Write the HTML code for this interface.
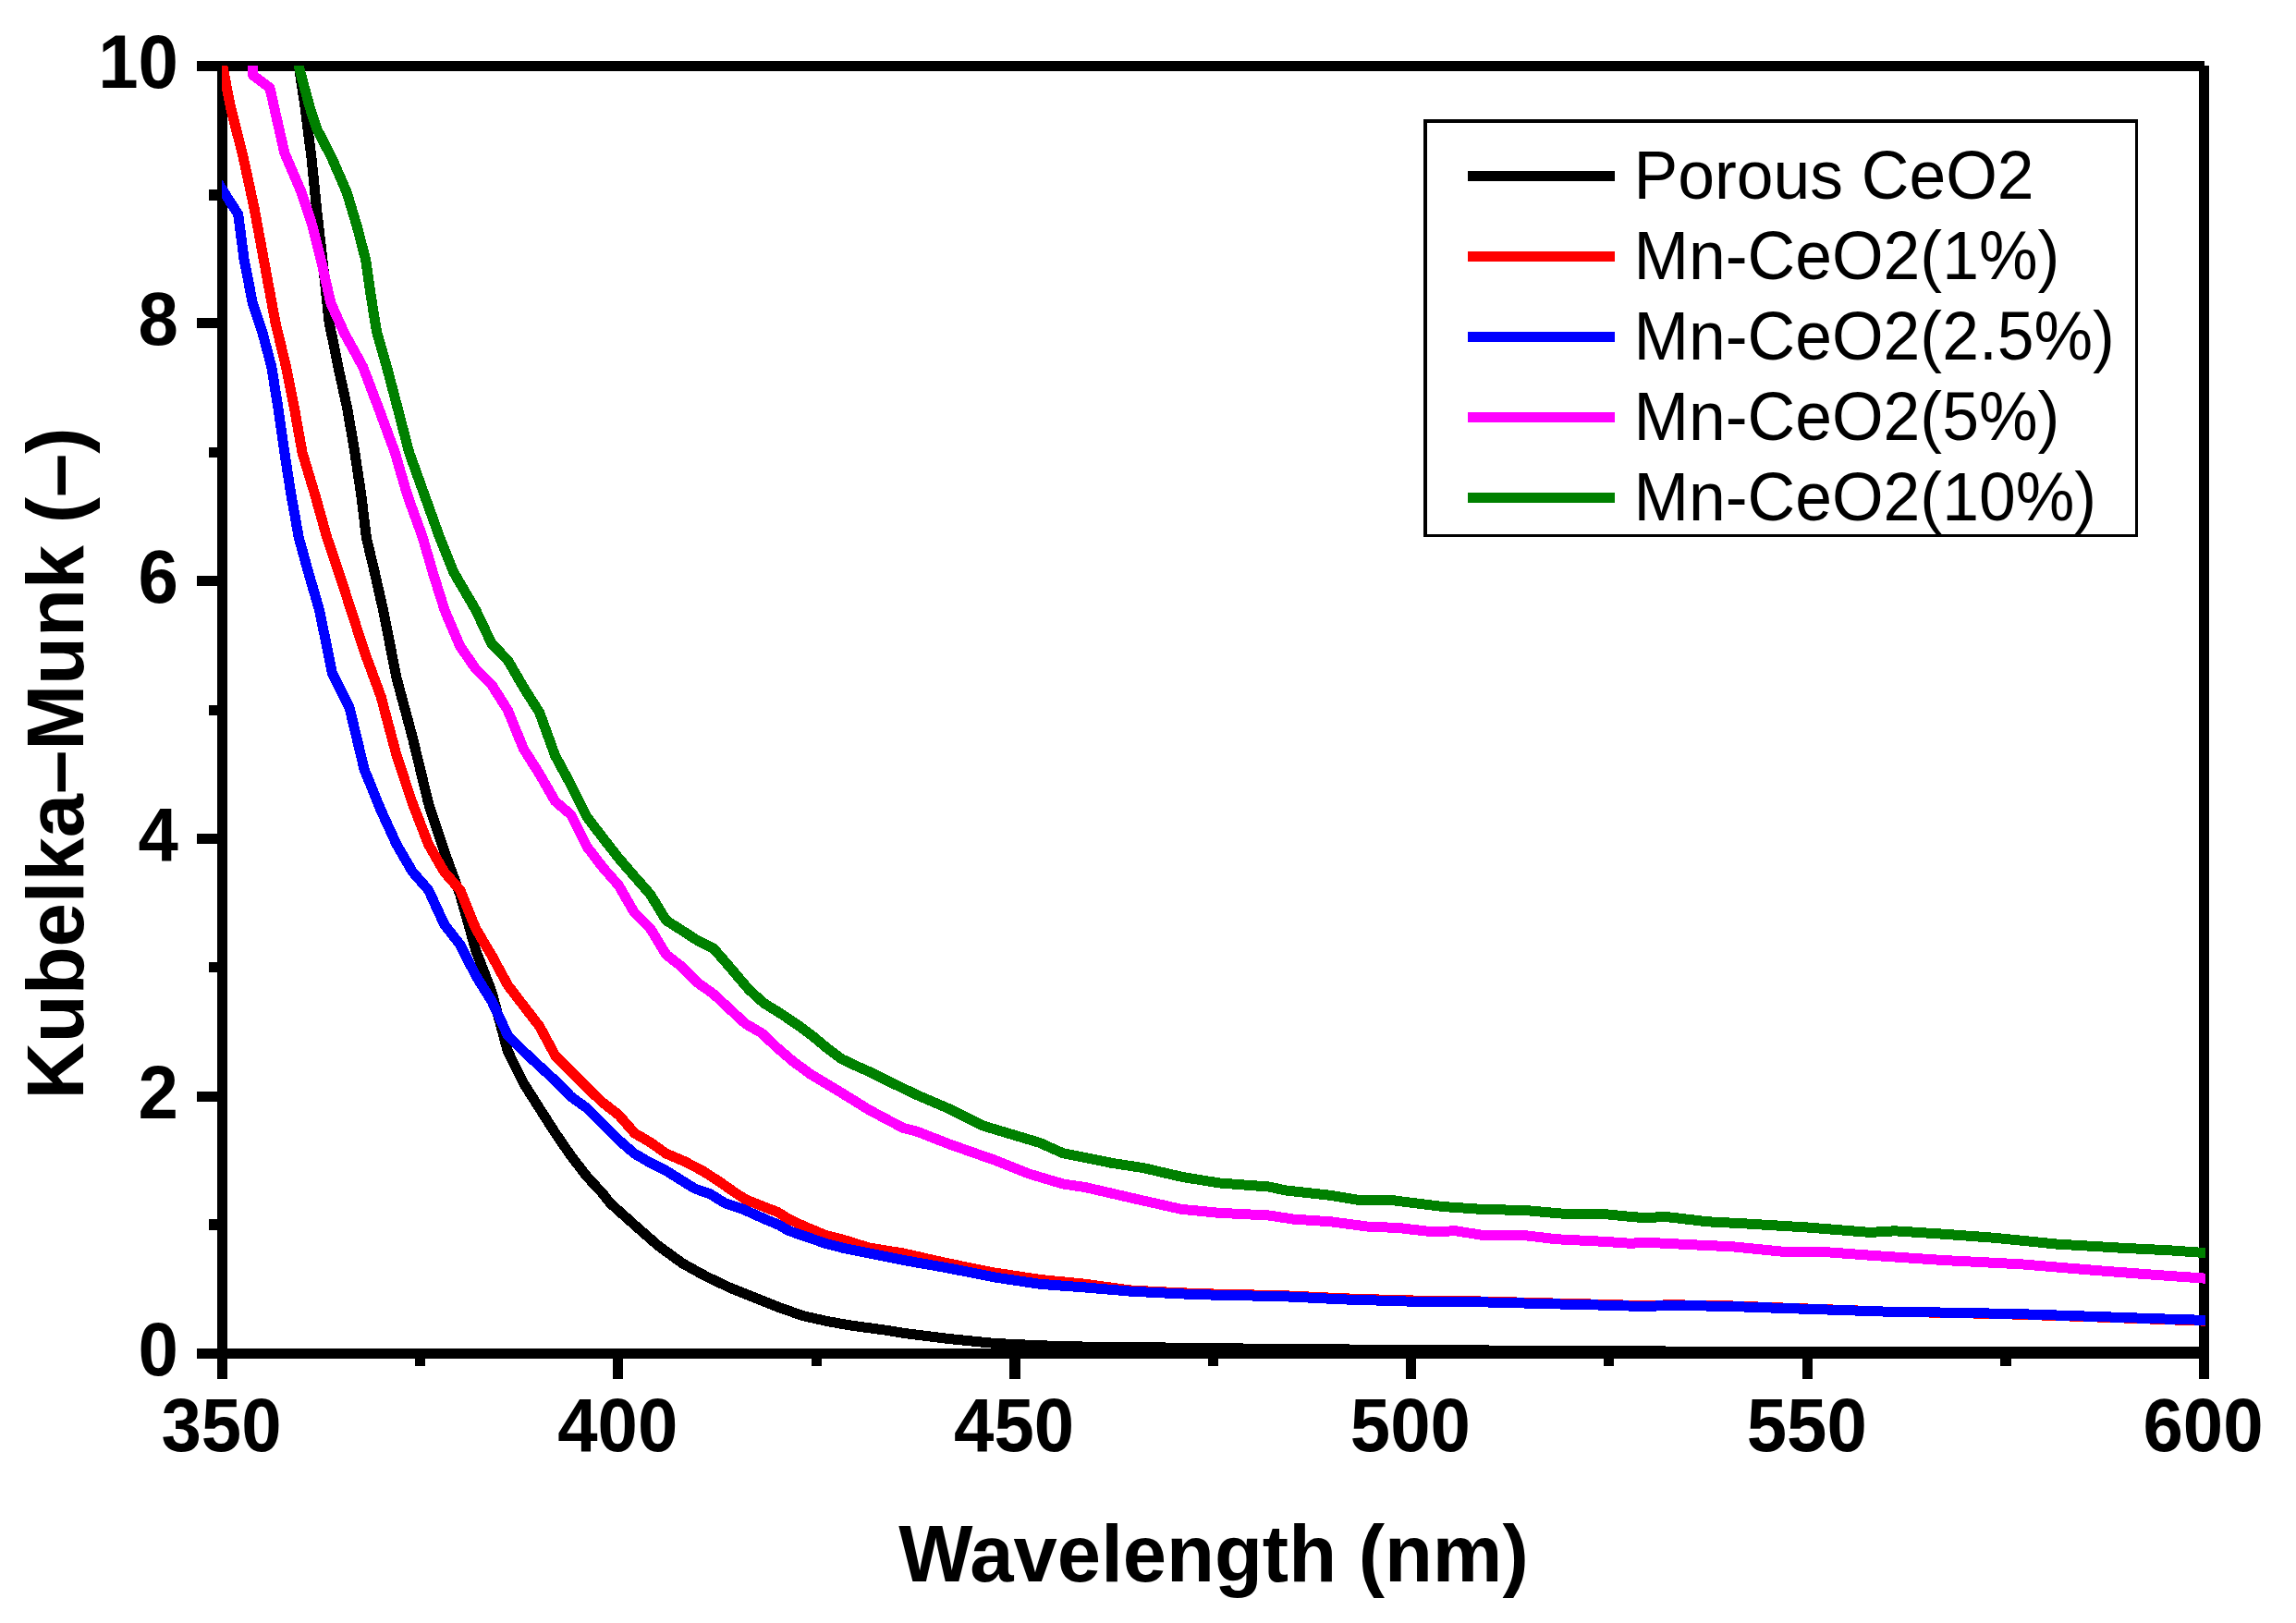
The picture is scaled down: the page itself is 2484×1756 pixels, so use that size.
<!DOCTYPE html>
<html lang="en">
<head>
<meta charset="utf-8">
<title>Kubelka-Munk vs Wavelength</title>
<style>
html,body{margin:0;padding:0;background:#fff;}
body{width:2484px;height:1756px;overflow:hidden;}
svg{display:block;}
.tick{font-family:"Liberation Sans",Arial,sans-serif;font-weight:bold;font-size:78px;fill:#000;}
.title{font-family:"Liberation Sans",Arial,sans-serif;font-weight:bold;font-size:85px;fill:#000;}
.leg{font-family:"Liberation Sans",Arial,sans-serif;font-size:71.5px;fill:#000;}
</style>
</head>
<body>
<svg width="2484" height="1756" viewBox="0 0 2484 1756">
<rect x="0" y="0" width="2484" height="1756" fill="#ffffff"/>
<defs><clipPath id="plotclip"><rect x="240" y="71" width="2146" height="1395"/></clipPath></defs>

<g fill="#000" shape-rendering="crispEdges">
<rect x="213" y="66" width="2172" height="11"/>
<rect x="213" y="1459" width="2177" height="11"/>
<rect x="235" y="66" width="11" height="1426"/>
<rect x="2379" y="71" width="11" height="1421"/>
<rect x="449" y="1470" width="11" height="8"/>
<rect x="663" y="1470" width="11" height="22"/>
<rect x="878" y="1470" width="11" height="8"/>
<rect x="1092" y="1470" width="12" height="22"/>
<rect x="1307" y="1470" width="11" height="8"/>
<rect x="1521" y="1470" width="11" height="22"/>
<rect x="1735" y="1470" width="11" height="8"/>
<rect x="1950" y="1470" width="11" height="22"/>
<rect x="2164" y="1470" width="12" height="8"/>
<rect x="226" y="205" width="9" height="12"/>
<rect x="213" y="344" width="22" height="11"/>
<rect x="226" y="484" width="9" height="11"/>
<rect x="213" y="623" width="22" height="11"/>
<rect x="226" y="763" width="9" height="11"/>
<rect x="213" y="902" width="22" height="11"/>
<rect x="226" y="1041" width="9" height="11"/>
<rect x="213" y="1181" width="22" height="11"/>
<rect x="226" y="1319" width="9" height="12"/>
</g>
<g clip-path="url(#plotclip)" fill="none" stroke-width="11" stroke-linejoin="round" stroke-linecap="butt" shape-rendering="crispEdges">
<polyline stroke="#000000" points="318.7,-13.9 323.3,71.1 330.0,115.5 337.0,170.9 342.6,226.4 349.0,281.8 356.1,348.6 365.9,397.0 376.0,443.2 383.8,489.4 390.8,535.6 396.4,581.8 405.2,618.8 414.5,660.0 429.1,733.8 446.3,797.9 463.6,869.3 480.6,921.1 497.8,967.9 515.0,1028.9 532.0,1073.2 549.3,1137.3 566.3,1171.8 583.5,1198.9 600.8,1226.0 617.8,1250.7 635.0,1272.9 652.0,1291.3 660.0,1301.6 686.1,1325.0 712.3,1348.0 738.4,1366.9 764.5,1381.3 790.7,1393.7 816.8,1404.1 843.0,1414.6 869.0,1423.7 895.2,1429.6 921.3,1434.2 960.0,1439.4 977.2,1442.3 1026.5,1448.5 1075.7,1453.4 1125.0,1455.8 1174.3,1457.1 1230.0,1457.5 1290.0,1458.5 1400.0,1459.5 1520.0,1460.5 1700.0,1461.5 1900.0,1462.5 2386.0,1462.5"/>
<polyline stroke="#ff0000" points="233.7,4.5 240.7,71.1 249.4,115.5 263.3,170.9 275.3,226.4 285.5,281.8 297.9,348.6 309.5,397.0 318.7,443.2 327.0,489.4 340.9,535.6 353.8,581.8 366.4,618.8 379.7,660.0 394.8,706.7 412.1,753.5 429.1,817.6 446.3,869.3 463.6,913.7 480.6,943.3 497.8,963.0 514.8,1004.9 532.0,1033.8 549.3,1065.8 566.3,1088.0 583.5,1110.2 600.8,1142.2 617.8,1159.5 635.0,1176.7 652.0,1192.8 669.3,1206.3 686.5,1226.0 703.5,1235.9 720.8,1248.2 740.0,1256.3 760.0,1266.7 778.3,1278.5 795.7,1290.7 806.2,1297.5 827.1,1306.0 841.0,1311.3 853.2,1318.8 870.7,1327.1 893.3,1336.5 910.7,1340.8 940.0,1349.9 977.2,1356.0 1026.5,1367.1 1075.7,1377.0 1125.0,1384.4 1174.3,1389.3 1224.0,1396.1 1278.0,1398.8 1318.5,1400.2 1386.0,1401.6 1453.5,1404.8 1521.0,1406.9 1602.1,1408.0 1683.1,1410.1 1737.1,1411.4 1780.0,1412.8 1807.0,1411.7 1874.5,1413.0 1955.5,1416.0 2036.5,1419.0 2117.5,1420.6 2185.1,1422.2 2266.1,1424.9 2320.1,1426.8 2386.0,1429.2"/>
<polyline stroke="#0000ff" points="223.3,178.3 240.5,205.1 257.7,231.9 264.2,281.8 273.4,328.0 284.0,360.0 293.8,397.0 301.2,443.2 307.8,489.4 315.0,535.6 323.3,581.8 333.5,618.8 345.5,660.0 359.6,728.9 378.1,765.8 394.1,832.4 412.1,876.7 429.1,913.7 446.3,943.3 463.6,963.0 480.6,1000.0 497.8,1022.2 515.0,1056.0 532.0,1083.1 549.3,1120.1 566.3,1137.3 583.5,1153.3 600.8,1169.3 617.8,1186.6 635.0,1198.9 652.0,1216.2 669.3,1233.4 686.5,1248.2 703.5,1258.1 720.8,1266.7 740.0,1278.8 752.2,1286.2 768.7,1292.0 783.6,1301.4 804.5,1308.6 827.1,1318.8 842.8,1325.4 853.2,1331.5 870.7,1337.6 893.3,1345.4 914.2,1350.8 931.6,1354.3 977.2,1363.4 1026.5,1372.1 1075.7,1381.9 1125.0,1389.3 1174.3,1393.0 1224.0,1397.2 1278.0,1399.9 1318.5,1401.3 1386.0,1402.6 1453.5,1405.9 1521.0,1408.0 1602.1,1408.8 1683.1,1410.9 1737.1,1412.2 1780.0,1413.6 1807.0,1412.2 1874.5,1413.6 1955.5,1416.3 2036.5,1419.0 2117.5,1420.3 2185.1,1421.7 2266.1,1424.4 2320.1,1426.3 2386.0,1428.4"/>
<polyline stroke="#ff00ff" points="273.6,-13.9 273.6,81.3 291.9,95.1 307.8,165.4 326.1,207.9 338.1,244.8 347.4,281.8 357.9,328.0 372.3,360.0 392.7,397.0 410.2,443.2 427.2,489.4 440.7,535.6 457.4,581.8 468.1,618.8 481.0,660.0 497.8,699.3 514.8,723.9 532.1,741.2 549.3,768.3 566.4,810.2 583.6,837.3 600.6,866.9 617.9,881.7 635.1,916.2 652.1,938.4 669.4,958.1 686.4,987.6 703.5,1004.5 720.8,1032.9 737.8,1046.1 755.0,1063.4 772.3,1075.7 789.3,1091.7 806.6,1107.7 823.8,1117.6 840.8,1133.6 858.1,1148.4 876.9,1162.3 908.2,1181.0 940.2,1200.8 977.2,1220.5 992.0,1224.2 1026.5,1237.7 1051.1,1246.4 1075.7,1255.0 1112.7,1269.8 1149.7,1280.9 1174.3,1284.6 1224.0,1296.1 1278.0,1308.3 1318.5,1312.3 1372.5,1315.0 1399.5,1319.1 1440.0,1321.8 1480.5,1327.2 1512.9,1328.5 1548.1,1332.6 1575.1,1331.8 1602.1,1336.1 1645.3,1336.1 1683.1,1340.7 1737.1,1343.4 1764.1,1345.3 1780.0,1344.2 1834.0,1346.9 1874.5,1348.8 1928.5,1354.2 1969.0,1354.2 2023.0,1358.2 2104.0,1363.6 2185.1,1367.7 2266.1,1374.4 2320.1,1378.5 2386.0,1383.2"/>
<polyline stroke="#008000" points="303.9,-13.9 324.6,77.0 335.0,115.5 342.8,139.5 359.0,170.9 375.1,207.9 386.2,244.8 395.8,281.8 401.0,318.8 407.8,360.0 418.5,397.0 430.6,443.2 442.6,489.4 459.2,535.6 475.8,581.8 490.6,618.8 514.7,660.0 532.1,696.8 549.3,714.1 566.4,743.7 583.6,770.8 600.6,817.6 617.9,849.6 635.1,884.1 652.1,906.3 669.4,928.5 686.4,948.2 703.5,967.6 720.8,995.9 737.8,1006.7 755.0,1017.8 772.3,1026.4 789.3,1046.1 796.7,1054.8 810.2,1070.7 826.3,1085.3 844.8,1096.7 863.2,1109.1 879.3,1121.0 894.1,1133.5 910.1,1145.5 924.9,1152.6 943.4,1160.9 960.0,1169.3 992.0,1184.7 1026.5,1199.5 1063.4,1218.0 1100.4,1229.1 1125.0,1236.5 1149.7,1247.6 1174.3,1252.5 1202.4,1258.3 1237.5,1263.7 1278.0,1273.2 1318.5,1279.9 1372.5,1284.0 1391.4,1288.0 1440.0,1293.4 1472.4,1298.8 1507.5,1298.8 1561.6,1305.6 1602.1,1308.3 1650.7,1309.6 1696.6,1313.7 1737.1,1313.7 1764.1,1316.4 1780.0,1317.7 1801.6,1316.4 1847.5,1321.8 1888.0,1323.9 1955.5,1328.0 2023.0,1333.4 2050.0,1331.8 2104.0,1335.3 2158.1,1339.3 2225.6,1346.1 2293.1,1350.1 2347.1,1352.8 2386.0,1355.6"/>
</g>
<text class="tick" transform="translate(239.5,1570) scale(1,1.043)" text-anchor="middle">350</text>
<text class="tick" transform="translate(668.3,1570) scale(1,1.043)" text-anchor="middle">400</text>
<text class="tick" transform="translate(1097.1,1570) scale(1,1.043)" text-anchor="middle">450</text>
<text class="tick" transform="translate(1525.9,1570) scale(1,1.043)" text-anchor="middle">500</text>
<text class="tick" transform="translate(1954.7,1570) scale(1,1.043)" text-anchor="middle">550</text>
<text class="tick" transform="translate(2383.5,1570) scale(1,1.043)" text-anchor="middle">600</text>
<text class="tick" transform="translate(193,1487.9) scale(1,1.043)" text-anchor="end">0</text>
<text class="tick" transform="translate(193,1209.9) scale(1,1.043)" text-anchor="end">2</text>
<text class="tick" transform="translate(193,930.9) scale(1,1.043)" text-anchor="end">4</text>
<text class="tick" transform="translate(193,651.9) scale(1,1.043)" text-anchor="end">6</text>
<text class="tick" transform="translate(193,372.9) scale(1,1.043)" text-anchor="end">8</text>
<text class="tick" transform="translate(193,94.9) scale(1,1.043)" text-anchor="end">10</text>
<text class="title" transform="translate(1313,1711) scale(1,1.034)" text-anchor="middle">Wavelength (nm)</text>
<text class="title" transform="translate(90,826) rotate(-90) scale(1,1.034)" text-anchor="middle">Kubelka–Munk (–)</text>
<g fill="#000" shape-rendering="crispEdges"><rect x="1540" y="129" width="773" height="4"/><rect x="1540" y="129" width="4" height="452"/><rect x="2310" y="129" width="3" height="452"/><rect x="1540" y="578" width="773" height="3"/></g>
<rect x="1588" y="185" width="159" height="11" fill="#000000" shape-rendering="crispEdges"/>
<text class="leg" transform="translate(1767.5,215) scale(1,1.026)">Porous CeO2</text>
<rect x="1588" y="272" width="159" height="11" fill="#ff0000" shape-rendering="crispEdges"/>
<text class="leg" transform="translate(1767.5,302) scale(1,1.026)">Mn-CeO2(1%)</text>
<rect x="1588" y="359" width="159" height="11" fill="#0000ff" shape-rendering="crispEdges"/>
<text class="leg" transform="translate(1767.5,389) scale(1,1.026)">Mn-CeO2(2.5%)</text>
<rect x="1588" y="446" width="159" height="11" fill="#ff00ff" shape-rendering="crispEdges"/>
<text class="leg" transform="translate(1767.5,476) scale(1,1.026)">Mn-CeO2(5%)</text>
<rect x="1588" y="533" width="159" height="11" fill="#008000" shape-rendering="crispEdges"/>
<text class="leg" transform="translate(1767.5,563) scale(1,1.026)">Mn-CeO2(10%)</text>
</svg>
</body>
</html>
